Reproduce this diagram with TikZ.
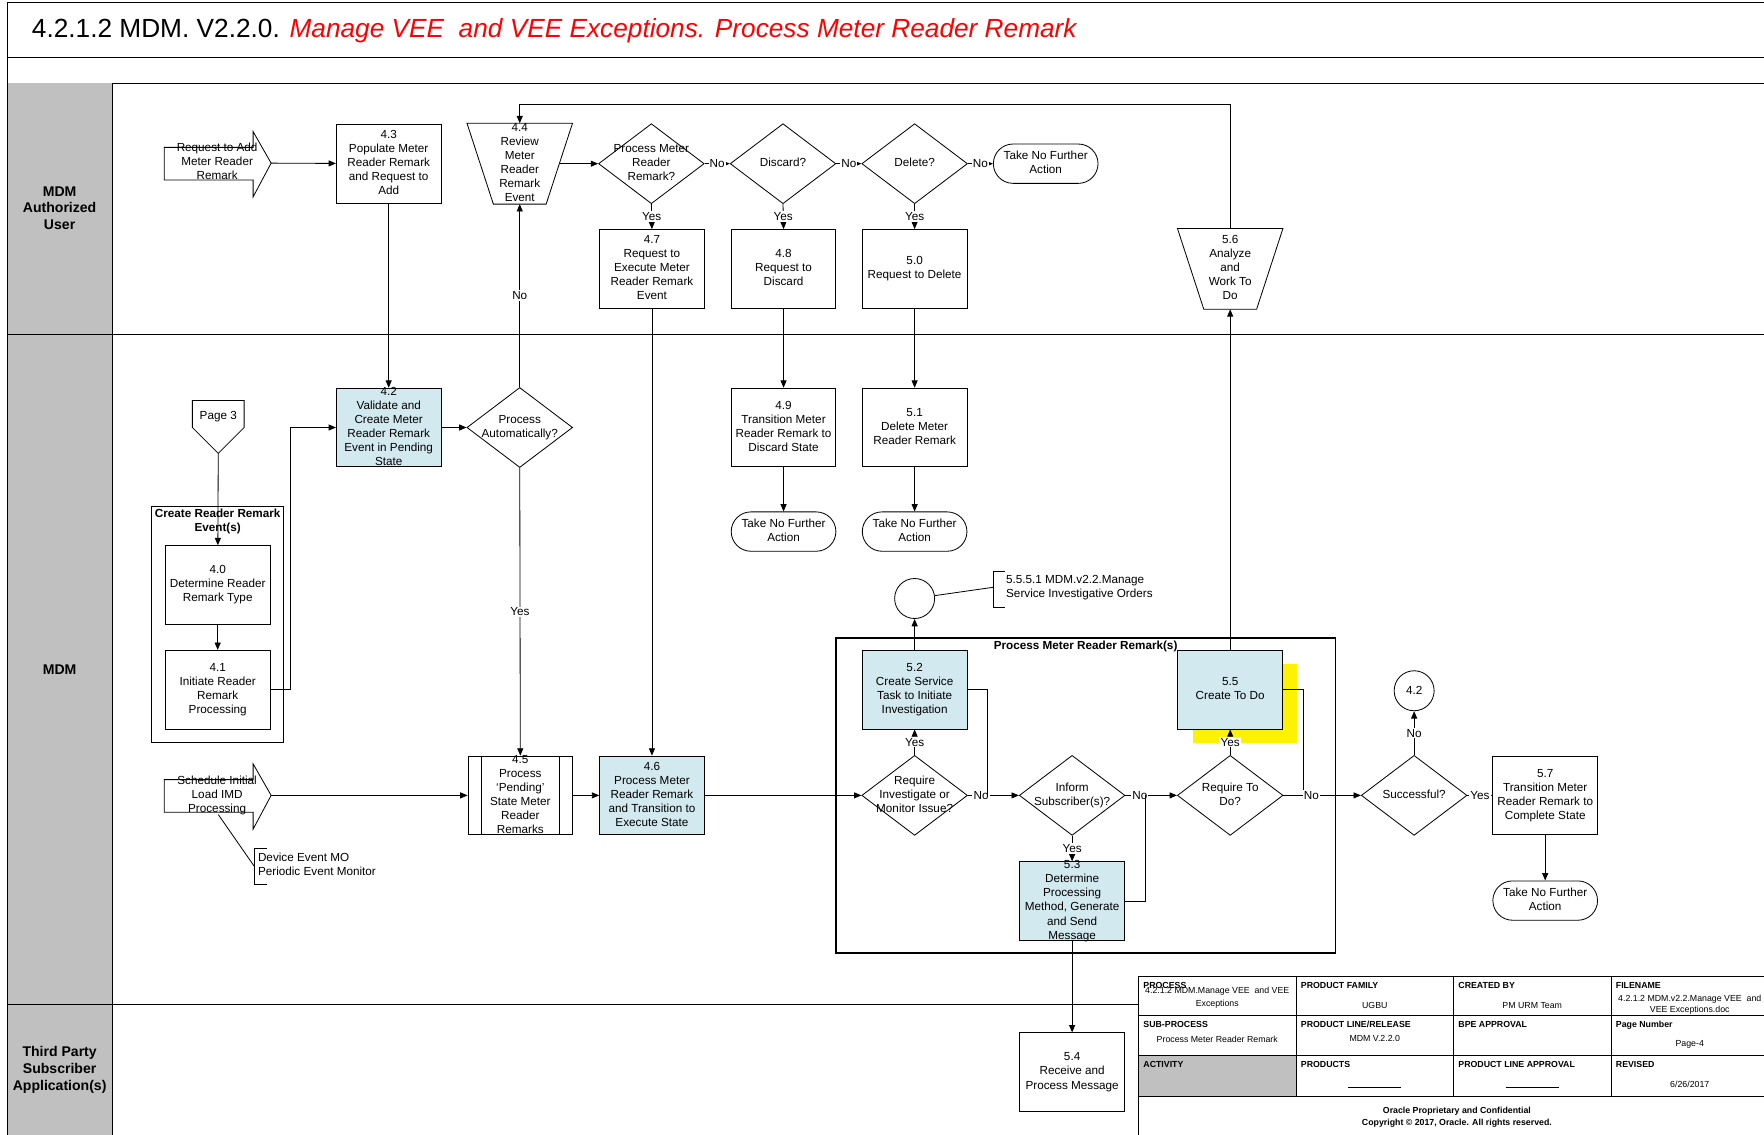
\documentclass[tikz,border=0pt]{standalone}
\usepackage{fontspec}
\setmainfont{Liberation Sans}
\usetikzlibrary{shapes.geometric, arrows.meta}

\definecolor{lanegray}{HTML}{C0C0C0}
\definecolor{taskblue}{HTML}{D2E9EF}

% text that may run over the border of its shape
\newcommand{\tx}[1]{\smash{\raisebox{-0.25em}{\begin{tabular}{@{}c@{}}#1\end{tabular}}}}

\begin{document}
\begin{tikzpicture}[x=0.03375cm, y=-0.03375cm, line width=0.7pt,
	every node/.style={font=\fontsize{10}{12}\selectfont, inner sep=0pt},
	task/.style={draw, fill=white, minimum width=3.14cm, minimum height=2.36cm},
	bluetask/.style={task, fill=taskblue},
	decision/.style={draw, fill=white, diamond, minimum width=3.17cm, minimum height=2.4cm},
	manual/.style={minimum width=3.14cm, minimum height=2.4cm},
	stop/.style={draw, fill=white, rounded corners=0.59cm, minimum width=3.14cm, minimum height=1.18cm},
	link/.style={draw, fill=white, circle, minimum size=1.2cm},
	yesno/.style={fill=white, inner sep=1pt},
	flow/.style={-{Triangle[length=2.2mm, width=1.8mm]}},
	lanename/.style={font=\fontsize{12}{14.4}\selectfont\bfseries, align=center},
	groupname/.style={font=\fontsize{10}{12}\selectfont\bfseries, align=center},
	cell/.style={font=\fontsize{7.5}{11}\selectfont, align=center},
	cellhead/.style={font=\fontsize{7.5}{9}\selectfont\bfseries, anchor=west}]

	\useasboundingbox (0,0) rectangle (1568,1008);

	% Title and lanes
	\draw (7,2) rectangle (1572,51);
	\node[anchor=west, font=\fontsize{22.4}{26}\selectfont] (title) at (28,27) {4.2.1.2 MDM. V2.2.0. \textcolor{red}{\itshape Manage VEE\ \ and VEE Exceptions. Process Meter Reader Remark}};
	\draw (7,51) rectangle (1572,74);
	\fill[lanegray] (7,74) rectangle (100,1012);
	\draw (7,74) -- (7,1012);
	\draw (100,74) -- (100,1012);
	\draw (7,297) -- (1572,297);
	\draw (7,893) -- (1572,893);
	\node[lanename] (lane1) at (53,185) {MDM\\Authorized\\User};
	\node[lanename] (lane2) at (53,595) {MDM};
	\node[lanename] (lane3) at (53,951) {Third Party\\Subscriber\\Application(s)};

	% MDM Authorized User
	\draw (146,131) -- (225,131) -- (225,117) -- (241,145) -- (225,175) -- (225,160) -- (146,160) -- cycle;
	\node (req) at (193,145) {\tx{Request to Add\\Meter Reader\\Remark}};
	\coordinate (reqtip) at (241,145);
	\node[task] (t43) at (345.5,145.5) {\tx{4.3\\Populate Meter\\Reader Remark\\and Request to\\Add}};
	\node[manual] (t44) at (462,145.5) {\tx{4.4\\Review\\Meter\\Reader\\Remark\\Event}};
	\draw (t44.north west) -- (t44.north east) -- ([xshift=-0.79cm]t44.south east) -- ([xshift=0.79cm]t44.south west) -- cycle;
	\node[decision] (d1) at (579,145.5) {\tx{Process Meter\\Reader\\Remark?}};
	\node[decision] (d2) at (696,145.5) {\tx{Discard?}};
	\node[decision] (d3) at (813,145.5) {\tx{Delete?}};
	\node[stop] (end1) at (929.5,145.5) {\tx{Take No Further\\Action}};
	\node[task] (t47) at (579.5,239) {\tx{4.7\\Request to\\Execute Meter\\Reader Remark\\Event}};
	\node[task] (t48) at (696.5,239) {\tx{4.8\\Request to\\Discard}};
	\node[task] (t50) at (813,239) {\tx{5.0\\Request to Delete}};
	\node[manual] (t56) at (1093.5,239) {\tx{5.6\\Analyze\\and\\Work To\\Do}};
	\draw (t56.north west) -- (t56.north east) -- ([xshift=-0.79cm]t56.south east) -- ([xshift=0.79cm]t56.south west) -- cycle;

	% MDM
	\draw (171,356) -- (217,356) -- (217,380) -- (194,403) -- (171,380) -- cycle;
	\node (pg3) at (194,370) {Page 3};
	\coordinate (pg3tip) at (194,403);
	\draw (135,450) rectangle (252,660);
	\node[groupname] (grp1) at (193.5,463.5) {Create Reader Remark\\Event(s)};
	\node[task] (t40) at (193.5,520) {\tx{4.0\\Determine Reader\\Remark Type}};
	\node[task] (t41) at (193.5,613) {\tx{4.1\\Initiate Reader\\Remark\\Processing}};
	\node[bluetask] (t42) at (345.5,380) {\tx{4.2\\Validate and\\Create Meter\\Reader Remark\\Event in Pending\\State}};
	\node[decision] (pa) at (462,380) {\tx{Process\\Automatically?}};
	\node[task] (t49) at (696.5,380) {\tx{4.9\\Transition Meter\\Reader Remark to\\Discard State}};
	\node[task] (t51) at (813,380) {\tx{5.1\\Delete Meter\\Reader Remark}};
	\node[stop] (end2) at (696.5,472.5) {\tx{Take No Further\\Action}};
	\node[stop] (end3) at (813,472.5) {\tx{Take No Further\\Action}};

	\draw (146,693) -- (225,693) -- (225,679) -- (241,707) -- (225,737) -- (225,722) -- (146,722) -- cycle;
	\node (sched) at (193,707) {\tx{Schedule Initial\\Load IMD\\Processing}};
	\coordinate (schedtip) at (241,707);
	\coordinate (mon) at (226,770);
	\draw (194,724) -- (mon);
	\draw (237,754) -- (226,754) -- (226,786) -- (237,786);
	\node[anchor=west, align=left] (monitor) at (229,768.5) {Device Event MO\\Periodic Event Monitor};

	\node[task] (t45) at (462.5,707) {\tx{4.5\\Process\\‘Pending’\\State Meter\\Reader\\Remarks}};
	\draw ([xshift=0.4cm]t45.north west) -- ([xshift=0.4cm]t45.south west);
	\draw ([xshift=-0.4cm]t45.north east) -- ([xshift=-0.4cm]t45.south east);
	\node[bluetask] (t46) at (579.5,707) {\tx{4.6\\Process Meter\\Reader Remark\\and Transition to\\Execute State}};

	% Process Meter Reader Remark(s)
	\draw[line width=1.3pt] (743,567) rectangle (1187,847);
	\node[groupname] (grp2) at (965,575) {Process Meter Reader Remark(s)};
	\node[decision] (ri) at (813,707) {\tx{Require\\Investigate or\\Monitor Issue?}};
	\node[bluetask] (t52) at (813,613) {\tx{5.2\\Create Service\\Task to Initiate\\Investigation}};
	\node[link] (c1) at (813,532) {};
	\coordinate (svcmark) at (883,522);
	\draw (893,508) -- (883,508) -- (883,540) -- (893,540);
	\node[anchor=west, align=left] (svc) at (894,522.5) {5.5.5.1 MDM.v2.2.Manage\\Service Investigative Orders};
	\node[decision] (inf) at (953,707) {\tx{Inform\\Subscriber(s)?}};
	\node[bluetask] (t53) at (953,801) {\tx{5.3\\Determine\\Processing\\Method, Generate\\and Send\\Message}};
	\fill[yellow] (1060,590) rectangle (1153,660);
	\node[bluetask] (t55) at (1093.5,613) {\tx{5.5\\Create To Do}};
	\node[decision] (rtd) at (1093.5,707) {\tx{Require To\\Do?}};
	\node[decision] (succ) at (1257,707) {\tx{Successful?}};
	\node[link] (c42) at (1257,614) {4.2};
	\node[task] (t57) at (1373.5,707) {\tx{5.7\\Transition Meter\\Reader Remark to\\Complete State}};
	\node[stop] (end4) at (1373.5,800.5) {\tx{Take No Further\\Action}};

	% Third Party Subscriber Application(s)
	\node[task] (t54) at (953,953) {\tx{5.4\\Receive and\\Process Message}};

	% Connectors
	\draw[flow] (reqtip) -- (t43);
	\draw[flow] (t43) -- (t42);
	\draw[flow] ([xshift=-0.4cm]t44.east) -- (d1.west);
	\draw[flow] (d1.east) -- node[yesno] {No} (d2.west);
	\draw[flow] (d2.east) -- node[yesno] {No} (d3.west);
	\draw[flow] (d3.east) -- node[yesno] {No} (end1.west);
	\draw[flow] (d1.south) -- node[yesno] {Yes} (t47.north);
	\draw[flow] (d2.south) -- node[yesno] {Yes} (t48.north);
	\draw[flow] (d3.south) -- node[yesno] {Yes} (t50.north);
	\draw[flow] (t47) -- (t46);
	\draw[flow] (t48) -- (t49);
	\draw[flow] (t50) -- (t51);
	\draw[flow] (t49) -- (end2);
	\draw[flow] (t51) -- (end3);
	\draw[flow] (t56.north) -- ++(0,-110) -| (t44.north);

	\draw[flow] (pg3tip) -- (t40);
	\draw[flow] (t40) -- (t41);
	\draw[flow] (t41.east) -- ++(18,0) |- (t42.west);
	\draw[flow] (t42) -- (pa);
	\draw[flow] (pa.north) -- node[yesno] {No} (t44.south);
	\draw[flow] (pa.south) -- node[yesno] {Yes} (t45.north);
	\draw[flow] (schedtip) -- (t45);
	\draw[flow] (t45) -- (t46);
	\draw[flow] (t46) -- (ri);
	\draw[flow] (ri.north) -- node[yesno] {Yes} (t52.south);
	\draw[flow] (t52) -- (c1);
	\draw (c1) -- (svcmark);
	\draw[flow] (ri.east) -- node[yesno, pos=0.26] {No} (inf.west);
	\draw (t52.east) -- ++(18,0) -- ++(0,94);
	\draw[flow] (inf.south) -- node[yesno] {Yes} (t53.north);
	\draw[flow] (inf.east) -- node[yesno, pos=0.28] {No} (rtd.west);
	\draw (t53.east) -- ++(18,0) -- ++(0,-94);
	\draw[flow] (rtd.north) -- node[yesno] {Yes} (t55.south);
	\draw[flow] (t55) -- (t56);
	\draw (t55.east) -- ++(18,0) -- ++(0,94);
	\draw[flow] (rtd.east) -- node[yesno, pos=0.36] {No} (succ.west);
	\draw[flow] (succ.north) -- node[yesno] {No} (c42.south);
	\draw[flow] (succ.east) -- node[yesno] {Yes} (t57.west);
	\draw[flow] (t57) -- (end4);
	\draw[flow] (t53) -- (t54);

	% Footer
	\draw[fill=white] (1012,868) rectangle (1575,1012);
	\fill[lanegray] (1012,938) rectangle (1152,975);
	\draw (1012,903) -- (1575,903);
	\draw (1012,938) -- (1575,938);
	\draw (1012,975) -- (1575,975);
	\draw (1152,868) -- (1152,975);
	\draw (1292,868) -- (1292,975);
	\draw (1432,868) -- (1432,975);
	\node[cellhead] (h1) at (1016,876) {PROCESS};
	\node[cell] (v1) at (1082,887) {4.2.1.2 MDM.Manage VEE\ \ and VEE\\Exceptions};
	\node[cellhead] (h2) at (1156,876) {PRODUCT FAMILY};
	\node[cell] (v2) at (1222,894) {UGBU};
	\node[cellhead] (h3) at (1296,876) {CREATED BY};
	\node[cell] (v3) at (1362,894) {PM URM Team};
	\node[cellhead] (h4) at (1436,876) {FILENAME};
	\node[cell, font=\fontsize{7.5}{10}\selectfont] (v4) at (1502,893) {4.2.1.2 MDM.v2.2.Manage VEE\ \ and\\VEE Exceptions.doc};
	\node[cellhead] (h5) at (1016,911) {SUB-PROCESS};
	\node[cell] (v5) at (1082,924) {Process Meter Reader Remark};
	\node[cellhead] (h6) at (1156,911) {PRODUCT LINE/RELEASE};
	\node[cell] (v6) at (1222,923) {MDM V.2.2.0};
	\node[cellhead] (h7) at (1296,911) {BPE APPROVAL};
	\node[cellhead] (h8) at (1436,911) {Page Number};
	\node[cell] (v8) at (1502,928) {Page-4};
	\node[cellhead] (h9) at (1016,946) {ACTIVITY};
	\node[cellhead] (h10) at (1156,946) {PRODUCTS};
	\node[cell] (v10) at (1222,966) {\rule{1.6cm}{0.3pt}};
	\node[cellhead] (h11) at (1296,946) {PRODUCT LINE APPROVAL};
	\node[cell] (v11) at (1362,966) {\rule{1.6cm}{0.3pt}};
	\node[cellhead] (h12) at (1436,946) {REVISED};
	\node[cell] (v12) at (1502,964) {6/26/2017};
	\node[cell, font=\fontsize{7.5}{10}\selectfont\bfseries] (copy) at (1295,993) {Oracle Proprietary and Confidential\\Copyright © 2017, Oracle. All rights reserved.};

\end{tikzpicture}
\end{document}
